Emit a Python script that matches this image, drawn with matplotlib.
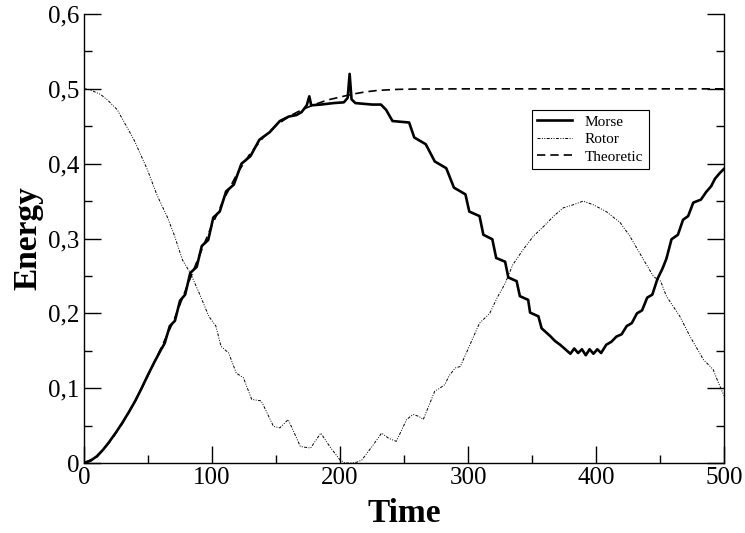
import numpy as np
import matplotlib
matplotlib.use("Agg")
import matplotlib.pyplot as plt
from matplotlib.ticker import MultipleLocator, FuncFormatter

plt.rcParams['font.family'] = ['Liberation Serif', 'DejaVu Serif']

# Morse energy
morse_t = [0, 5, 10, 15, 20, 25, 30, 35, 40, 45, 50, 55, 60, 63, 67, 71, 75, 79, 83, 88,
           92, 97, 101, 106, 111, 117, 123, 130, 137, 145, 153, 160, 166, 170, 174, 176,
           177.5, 185, 195, 203, 206, 207.5, 209, 212, 225, 232, 236, 241, 254, 258, 267,
           274, 283, 289, 298, 301, 309, 312, 319, 322, 329, 331.5, 338, 340.5, 347, 348.5,
           355, 357.5, 364, 368, 372, 376, 380, 383, 386, 389, 392, 395, 398, 401, 404, 408,
           412, 416, 420, 424, 428, 432, 436, 440, 444, 448, 452, 455, 459, 464, 468, 472,
           476, 482, 486, 490, 493, 497, 500]
morse_e = [0, 0.003, 0.009, 0.018, 0.029, 0.041, 0.054, 0.068, 0.083, 0.1, 0.118, 0.135,
           0.151, 0.16, 0.183, 0.19, 0.217, 0.225, 0.254, 0.262, 0.29, 0.298, 0.328, 0.336,
           0.363, 0.372, 0.4, 0.41, 0.432, 0.442, 0.457, 0.463, 0.465, 0.469, 0.478, 0.49,
           0.478, 0.479, 0.481, 0.482, 0.488, 0.52, 0.486, 0.481, 0.479, 0.479, 0.472, 0.457,
           0.455, 0.435, 0.426, 0.403, 0.394, 0.368, 0.359, 0.336, 0.33, 0.305, 0.299, 0.274,
           0.269, 0.248, 0.243, 0.223, 0.218, 0.201, 0.196, 0.18, 0.17, 0.163, 0.158, 0.152,
           0.146, 0.153, 0.147, 0.152, 0.144, 0.152, 0.146, 0.152, 0.147, 0.158, 0.162, 0.169,
           0.172, 0.183, 0.187, 0.2, 0.204, 0.221, 0.225, 0.246, 0.26, 0.273, 0.299, 0.305,
           0.325, 0.33, 0.348, 0.352, 0.362, 0.37, 0.38, 0.388, 0.393]

# Rotor energy
rotor_t = [0, 3, 7, 13, 19, 26, 39, 49.5, 57, 65, 70, 77, 83, 90, 97.5, 103, 107, 113, 119,
           124.5, 131, 138.5, 148, 153, 159.5, 163, 169, 177, 185, 192, 200, 204, 208, 213,
           217, 225, 232.5, 238, 244, 252, 257, 262, 265, 274, 278, 282, 285, 290, 294,
           301.5, 309, 317, 322.5, 329, 335, 343, 351, 359, 367, 374.5, 382, 390, 398, 408,
           419, 426.5, 437, 445, 450.5, 455, 465.5, 473.5, 484, 491.5, 495, 500]
rotor_e = [0.5, 0.4995, 0.497, 0.4925, 0.484, 0.472, 0.432, 0.392, 0.358, 0.329, 0.307,
           0.271, 0.254, 0.227, 0.196, 0.183, 0.156, 0.147, 0.12, 0.114, 0.085, 0.083, 0.049,
           0.047, 0.058, 0.045, 0.022, 0.02, 0.04, 0.022, 0.004, 0.0, 0.0, 0.001, 0.004,
           0.022, 0.04, 0.033, 0.029, 0.058, 0.065, 0.062, 0.058, 0.096, 0.1, 0.105, 0.116,
           0.127, 0.129, 0.158, 0.187, 0.2, 0.22, 0.24, 0.265, 0.285, 0.303, 0.316, 0.33,
           0.341, 0.345, 0.35, 0.345, 0.336, 0.321, 0.303, 0.272, 0.249, 0.243, 0.223, 0.196,
           0.169, 0.138, 0.125, 0.11, 0.09]

# Theoretic curve
theo_t = [0, 10, 20, 30, 40, 50, 60, 70, 80, 90, 100, 110, 120, 130, 140, 150, 160, 170,
          180, 190, 200, 210, 220, 230, 245, 260, 300, 350, 400, 450, 500]
theo_e = [0, 0.008, 0.028, 0.053, 0.083, 0.117, 0.153, 0.19, 0.234, 0.277, 0.318, 0.355,
          0.388, 0.414, 0.435, 0.451, 0.463, 0.472, 0.479, 0.485, 0.489, 0.493, 0.496, 0.498,
          0.4993, 0.4998, 0.5, 0.5, 0.5, 0.5, 0.5]

fig = plt.figure(figsize=(7.45, 5.33), dpi=100)
ax = fig.add_axes([0.1128, 0.1313, 0.8590, 0.8424])

ax.plot(morse_t, morse_e, color='black', lw=1.9, label='Morse', solid_joinstyle='round')
ax.plot(rotor_t, rotor_e, color='black', lw=0.7, dashes=(3, 1.5, 1, 1.5, 1, 1.5), label='Rotor')
ax.plot(theo_t, theo_e, color='black', lw=1.2, dashes=(5, 3), label='Theoretic')

ax.set_xlim(0, 500)
ax.set_ylim(0, 0.6)
ax.spines['top'].set_visible(False)
for s in ['left', 'right', 'bottom']:
    ax.spines[s].set_linewidth(1.0)

ax.xaxis.set_major_locator(MultipleLocator(100))
ax.xaxis.set_minor_locator(MultipleLocator(50))
ax.yaxis.set_major_locator(MultipleLocator(0.1))
ax.yaxis.set_minor_locator(MultipleLocator(0.05))

def comma(v, pos):
    if abs(v) < 1e-9:
        return '0'
    return ('%.1f' % v).replace('.', ',')

ax.yaxis.set_major_formatter(FuncFormatter(comma))
ax.tick_params(which='both', direction='in', top=False, right=True, labelsize=18, width=1.0)
ax.tick_params(which='major', length=12, pad=3)
ax.tick_params(which='minor', length=6)

ax.set_xlabel('Time', fontsize=24, fontweight='bold', labelpad=6)
ax.set_ylabel('Energy', fontsize=24, fontweight='bold', labelpad=4)

leg = ax.legend(loc='upper left', bbox_to_anchor=(0.7, 0.787), fontsize=11,
                frameon=True, fancybox=False, edgecolor='black', framealpha=1,
                handlelength=2.3, borderpad=0.35, labelspacing=0.25, handletextpad=0.8,
                borderaxespad=0)
leg.get_frame().set_linewidth(0.8)

fig.savefig('out.png', dpi=100)
